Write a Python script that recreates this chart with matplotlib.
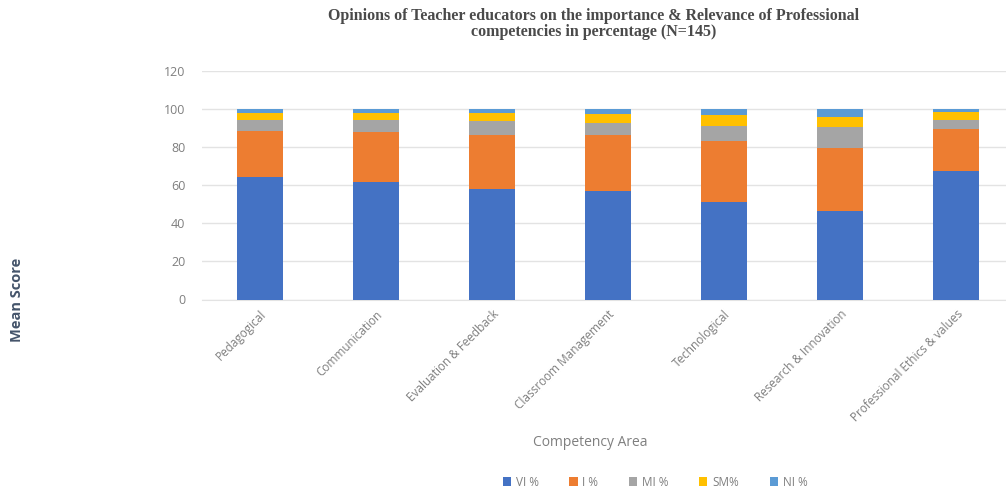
import numpy as np
import matplotlib.pyplot as plt

# Competency areas and percentage shares per response category
areas = ["Pedagogical", "Communication", "Evaluation & Feedback",
         "Classroom Management", "Technological", "Research & Innovation",
         "Professional Ethics & values"]
vi = [64.5, 61.5, 58.0, 57.0, 51.0, 46.5, 67.5]
imp = [24.0, 26.5, 28.5, 29.5, 32.0, 33.0, 22.0]
mi = [6.0, 6.5, 7.0, 6.0, 8.0, 11.0, 5.0]
sm = [3.5, 3.5, 4.5, 5.0, 6.0, 5.5, 4.0]
ni = [2.0, 2.0, 2.0, 2.5, 3.0, 4.0, 1.5]
series_labels = ["VI %", "I %", "MI %", "SM%", "NI %"]
colors = ["#4472C4", "#ED7D31", "#A5A5A5", "#FFC000", "#5B9BD5"]
yticks = [0, 20, 40, 60, 80, 100, 120]

plt.rcParams['font.family'] = ['Open Sans', 'DejaVu Sans']

fig = plt.figure(figsize=(10.06, 5.01), dpi=100)
ax = fig.add_axes([202 / 1006, 1 - 299.5 / 501, 812 / 1006, 228.5 / 501])

x = np.arange(len(areas))
bottom = np.zeros(len(areas))
for vals, lab, col in zip([vi, imp, mi, sm, ni], series_labels, colors):
    ax.bar(x, vals, 0.4, bottom=bottom, color=col, label=lab, zorder=3)
    bottom += np.array(vals)

ax.set_xlim(-0.5, 6.5)
ax.set_ylim(0, 120)
ax.set_yticks(yticks)
ax.set_yticklabels([str(v) for v in yticks], color="#7f7f7f", fontsize=9)
ax.yaxis.grid(True, color="#e3e3e3", linewidth=1, zorder=0)
ax.tick_params(axis="both", length=0, pad=12)
ax.set_xticks(x)
ax.set_xticklabels(areas, rotation=45, ha="right", rotation_mode="anchor",
                   color="#7f7f7f", fontsize=8.5)
ax.tick_params(axis="x", pad=6)
for side in ["top", "right", "left"]:
    ax.spines[side].set_visible(False)
ax.spines["bottom"].set_color("#e3e3e3")

fig.text(594 / 1006, 1 - 24 / 501,
         "Opinions of Teacher educators on the importance & Relevance of Professional\n"
         "competencies in percentage (N=145)",
         ha="center", va="center", fontsize=11.5, fontweight="bold",
         family="Liberation Serif", color="#4a4a4a", linespacing=1.05)

fig.text(590 / 1006, 1 - 443 / 501, "Competency Area", ha="center", va="center",
         fontsize=10, color="#7f7f7f")

fig.text(17 / 1006, 1 - 300 / 501, "Mean Score", rotation=90, ha="center",
         va="center", fontsize=10.5, fontweight="bold", color="#44546A")

handles, labels = ax.get_legend_handles_labels()
fig.legend(handles, labels, loc="center", bbox_to_anchor=(655 / 1006, 1 - 482 / 501),
           ncol=5, frameon=False, fontsize=8.5, handlelength=0.7, handleheight=0.7,
           columnspacing=2.6, handletextpad=0.4, labelcolor="#7f7f7f")

fig.savefig("out.png", dpi=100)
